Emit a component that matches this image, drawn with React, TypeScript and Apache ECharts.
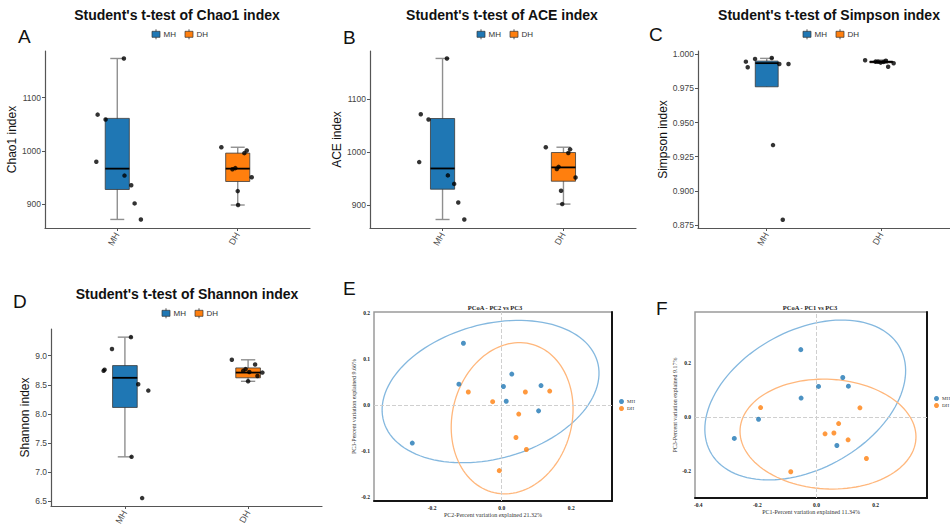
import React, { useEffect, useRef } from 'react';
import * as echarts from 'echarts';

const SANS = '"Liberation Sans", Arial, Helvetica, sans-serif';
const SERIF = '"Liberation Serif", "Times New Roman", serif';

const groups = ['MH', 'DH'];
const boxColors = ['#1f77b4', '#ff7f0e'];
const pcColors = ['#1f77b4', '#ff7f0e'];
const ellipseColors = ['#84b8df', '#ffb77c'];

// Panel A – Chao1: box stats [min, Q1, median, Q3, max]
const chaoBoxMH = [872, 928, 967, 1061, 1173];
const chaoBoxDH = [899, 943, 967, 996, 1007];
const chaoMH = [1173, 1068, 1059, 980, 954, 936, 902, 872];
const chaoMHJit = [1.055, 0.837, 0.903, 0.826, 1.06, 1.116, 1.144, 1.196];
const chaoDH = [1007, 996, 1001, 966, 968, 951, 925, 899];
const chaoDHJit = [1.864, 2.055, 2.075, 1.956, 1.98, 2.116, 2.0, 2.003];
const chaoTicks = [900, 1000, 1100];

// Panel B – ACE
const aceBoxMH = [873, 930, 969, 1063, 1176];
const aceBoxDH = [902, 945, 971, 999, 1009];
const aceMH = [1176, 1071, 1061, 981, 956, 940, 905, 873];
const aceMHJit = [1.036, 0.82, 0.884, 0.807, 1.044, 1.096, 1.13, 1.18];
const aceDH = [1009, 1005, 998, 968, 972, 952, 927, 902];
const aceDHJit = [1.854, 2.055, 2.04, 1.945, 1.96, 2.1, 1.98, 1.99];
const aceTicks = [900, 1000, 1100];

// Panel C – Simpson
const simpBoxMH = [0.9762, 0.9762, 0.9935, 0.995, 0.997];
const simpBoxDH = [0.9935, 0.9938, 0.9944, 0.995, 0.9958];
const simpMH = [0.9946, 0.9905, 0.9966, 0.9973, 0.9929, 0.9929, 0.9335, 0.8788];
const simpMHJit = [0.818, 0.834, 0.898, 1.044, 1.11, 1.19, 1.055, 1.14];
const simpDH = [0.9956, 0.9946, 0.9946, 0.9939, 0.9953, 0.9909, 0.9934, 0.9944];
const simpDHJit = [1.859, 1.95, 1.972, 1.995, 2.04, 2.06, 2.108, 2.02];
const simpTicks = [0.875, 0.9, 0.925, 0.95, 0.975, 1.0];

// Panel D – Shannon
const shanBoxMH = [7.26, 8.11, 8.62, 8.83, 9.32];
const shanBoxDH = [8.56, 8.62, 8.71, 8.79, 8.93];
const shanMH = [9.32, 9.115, 8.74, 8.76, 8.51, 8.4, 7.26, 6.55];
const shanMHJit = [1.049, 0.895, 0.827, 0.835, 1.108, 1.19, 1.054, 1.14];
const shanDH = [8.93, 8.74, 8.77, 8.85, 8.71, 8.65, 8.56, 8.72];
const shanDHJit = [1.868, 1.96, 1.98, 2.057, 2.116, 2.076, 2.0, 2.01];
const shanTicks = [6.5, 7.0, 7.5, 8.0, 8.5, 9.0];

// Panel E – PCoA PC2 vs PC3
const pcE_MH_x = [-0.11, -0.123, 0.029, 0.005, 0.013, 0.113, 0.106, -0.257];
const pcE_MH_y = [0.134, 0.045, 0.067, 0.04, 0.008, 0.042, -0.013, -0.083];
const pcE_DH_x = [-0.096, -0.026, 0.068, 0.138, 0.049, 0.041, 0.071, -0.007];
const pcE_DH_y = [0.028, 0.007, 0.028, 0.03, -0.02, -0.071, -0.097, -0.143];
// ellipse: [cx, cy, semi-axis a, semi-axis b, angle deg]
const ellE_MH = [-0.032, 0.029, 0.315, 0.148, 9.4];
const ellE_DH = [0.03, -0.029, 0.181, 0.158, 31.2];
const pcE_xTicks = [-0.2, 0, 0.2];
const pcE_yTicks = [-0.2, -0.1, 0, 0.1, 0.2];

// Panel F – PCoA PC1 vs PC3
const pcF_MH_x = [-0.053, 0.089, 0.108, 0.007, -0.052, -0.196, -0.278, 0.069];
const pcF_MH_y = [0.248, 0.145, 0.113, 0.112, 0.069, -0.009, -0.08, -0.106];
const pcF_DH_x = [-0.189, 0.147, 0.075, 0.029, 0.059, 0.107, 0.169, -0.087];
const pcF_DH_y = [0.034, 0.033, -0.025, -0.063, -0.06, -0.085, -0.154, -0.203];
const ellF_MH = [-0.038, 0.062, 0.375, 0.249, 34.5];
const ellF_DH = [0.039, -0.064, 0.298, 0.2025, -3.6];
const pcF_xTicks = [-0.4, -0.2, 0, 0.2];
const pcF_yTicks = [-0.2, 0, 0.2];

const boxPanels = [
  { key: 'A', yName: 'Chao1 index', title: "Student's t-test of Chao1 index", boxes: [chaoBoxMH, chaoBoxDH], vals: [chaoMH, chaoDH], jit: [chaoMHJit, chaoDHJit], ticks: chaoTicks, min: 856, max: 1187, dec: 0 },
  { key: 'B', yName: 'ACE index', title: "Student's t-test of ACE index", boxes: [aceBoxMH, aceBoxDH], vals: [aceMH, aceDH], jit: [aceMHJit, aceDHJit], ticks: aceTicks, min: 857, max: 1190, dec: 0 },
  { key: 'C', yName: 'Simpson index', title: "Student's t-test of Simpson index", boxes: [simpBoxMH, simpBoxDH], vals: [simpMH, simpDH], jit: [simpMHJit, simpDHJit], ticks: simpTicks, min: 0.8728, max: 1.0024, dec: 3 },
  { key: 'D', yName: 'Shannon index', title: "Student's t-test of Shannon index", boxes: [shanBoxMH, shanBoxDH], vals: [shanMH, shanDH], jit: [shanMHJit, shanDHJit], ticks: shanTicks, min: 6.414, max: 9.46, dec: 1 },
];

const pcPanels = [
  { key: 'E', title: 'PCoA - PC2 vs PC3', xName: 'PC2-Percent variation explained 21.32%', yName: 'PC3-Percent variation explained 9.66%', pts: [[pcE_MH_x, pcE_MH_y], [pcE_DH_x, pcE_DH_y]], ell: [ellE_MH, ellE_DH], xTicks: pcE_xTicks, yTicks: pcE_yTicks, xMin: -0.367, xMax: 0.317, yMin: -0.209, yMax: 0.202 },
  { key: 'F', title: 'PCoA - PC1 vs PC3', xName: 'PC1-Percent variation explained 11.34%', yName: 'PC3-Percent variation explained 9.17%', pts: [[pcF_MH_x, pcF_MH_y], [pcF_DH_x, pcF_DH_y]], ell: [ellF_MH, ellF_DH], xTicks: pcF_xTicks, yTicks: pcF_yTicks, xMin: -0.411, xMax: 0.374, yMin: -0.3, yMax: 0.387 },
];

// layout (pixels)
const boxGrids = [
  { left: 45, top: 51, width: 265, height: 177 },
  { left: 370, top: 51, width: 266, height: 177 },
  { left: 698, top: 51, width: 266, height: 177 },
  { left: 51, top: 329, width: 271, height: 177 },
];
const boxNameGaps = [26, 26, 29, 18];
const boxTitlePos = [[177, 15], [502, 15], [829, 15], [187, 294]];
const boxLegendPos = [[152, 34.3], [477, 34.3], [803, 34.3], [162, 313.3]];
const pcGrids = [
  { left: 374, top: 312, width: 238, height: 189 },
  { left: 695, top: 312, width: 232, height: 186 },
];
const pcYNameGaps = [10.5, 12.5];
const pcTitlePos = [[495, 307], [810, 307]];
const pcLegendPos = [[619, 399], [934, 396]];
const letterPos = [[18, 36], [343, 37], [649, 34], [13, 301], [343, 288], [656, 308]];

function boxRender(color: string) {
  return (params: any, api: any) => {
    const x = api.value(0);
    const lo = api.value(1), q1 = api.value(2), med = api.value(3), q3 = api.value(4), hi = api.value(5);
    const hw = 0.1, cw = 0.058;
    const c = api.coord([x, hi]);
    const cLo = api.coord([x, lo]);
    const capL = api.coord([x - cw, hi]);
    const capR = api.coord([x + cw, hi]);
    const boxTL = api.coord([x - hw, q3]);
    const boxBR = api.coord([x + hw, q1]);
    const mL = api.coord([x - hw, med]);
    const mR = api.coord([x + hw, med]);
    const wStyle = { stroke: '#8f8f8f', lineWidth: 1.4 };
    const children: any[] = [
      { type: 'line', shape: { x1: c[0], y1: c[1], x2: cLo[0], y2: cLo[1] }, style: wStyle },
      { type: 'line', shape: { x1: capL[0], y1: c[1], x2: capR[0], y2: c[1] }, style: wStyle },
    ];
    if (lo < q1) {
      children.push({ type: 'line', shape: { x1: capL[0], y1: cLo[1], x2: capR[0], y2: cLo[1] }, style: wStyle });
    }
    children.push({
      type: 'rect',
      shape: { x: boxTL[0], y: boxTL[1], width: boxBR[0] - boxTL[0], height: Math.max(1, boxBR[1] - boxTL[1]) },
      style: { fill: color, stroke: '#3a3a3a', lineWidth: 0.8 },
    });
    children.push({ type: 'line', shape: { x1: mL[0], y1: mL[1], x2: mR[0], y2: mR[1] }, style: { stroke: '#000', lineWidth: 1.8 } });
    return { type: 'group', children };
  };
}

function ellipseRender(color: string) {
  return (params: any, api: any) => {
    const cx = api.value(0), cy = api.value(1), a = api.value(2), b = api.value(3);
    const th = (api.value(4) * Math.PI) / 180;
    const pts: number[][] = [];
    const n = 120;
    for (let k = 0; k < n; k++) {
      const t = (k / n) * Math.PI * 2;
      const ex = a * Math.cos(t), ey = b * Math.sin(t);
      pts.push(api.coord([cx + ex * Math.cos(th) - ey * Math.sin(th), cy + ex * Math.sin(th) + ey * Math.cos(th)]));
    }
    return { type: 'polygon', shape: { points: pts }, style: { fill: 'none', stroke: color, lineWidth: 1.3 } };
  };
}

function buildOption() {
  const grid: any[] = [];
  const xAxis: any[] = [];
  const yAxis: any[] = [];
  const series: any[] = [];
  const graphic: any[] = [];
  const legend: any[] = [];

  boxPanels.forEach((p, i) => {
    grid.push({ ...boxGrids[i], containLabel: false });
    xAxis.push({
      gridIndex: i, type: 'value', min: 0.4, max: 2.6,
      axisLine: { show: true, onZero: false, lineStyle: { color: '#555', width: 1.2 } },
      axisTick: { show: true, customValues: [1, 2], length: 3, lineStyle: { color: '#555' } },
      axisLabel: {
        customValues: [1, 2], rotate: 60, margin: 5, fontSize: 9, color: '#4d4d4d', fontFamily: SANS,
        formatter: (v: number) => groups[Math.round(v) - 1] ?? '',
      },
      splitLine: { show: false },
    });
    yAxis.push({
      gridIndex: i, type: 'value', min: p.min, max: p.max,
      name: p.yName, nameLocation: 'middle', nameGap: boxNameGaps[i], nameRotate: 90,
      nameTextStyle: { fontSize: 12, color: '#111', fontFamily: SANS },
      axisLine: { show: true, onZero: false, lineStyle: { color: '#555', width: 1.2 } },
      axisTick: { show: true, customValues: p.ticks, length: 3, lineStyle: { color: '#555' } },
      axisLabel: {
        customValues: p.ticks, fontSize: 8.5, color: '#444', fontFamily: SANS, margin: 4,
        formatter: (v: number) => v.toFixed(p.dec),
      },
      splitLine: { show: false },
    });
    groups.forEach((g, k) => {
      series.push({
        type: 'custom', name: `${p.key}-${g}`, xAxisIndex: i, yAxisIndex: i, silent: true, clip: false,
        renderItem: boxRender(boxColors[k]),
        encode: { x: 0, y: [1, 2, 3, 4, 5] },
        data: [[k + 1, ...p.boxes[k]]],
      });
    });
    groups.forEach((g, k) => {
      series.push({
        type: 'scatter', name: `${p.key}-${g}-pts`, xAxisIndex: i, yAxisIndex: i, silent: true,
        symbolSize: 4.5, itemStyle: { color: '#000' }, z: 5,
        data: p.jit[k].map((x, j) => [x, p.vals[k][j]]),
      });
    });
    graphic.push({
      type: 'text', z: 10,
      style: { text: p.title, x: boxTitlePos[i][0], y: boxTitlePos[i][1], fontSize: 14, fontWeight: 'bold', fontFamily: SANS, fill: '#111', textAlign: 'center', textVerticalAlign: 'middle' },
    });
    const [L, ly] = boxLegendPos[i];
    groups.forEach((g, k) => {
      const x0 = L + k * 33;
      graphic.push({ type: 'line', z: 10, shape: { x1: x0 + 4, y1: ly - 5, x2: x0 + 4, y2: ly + 5 }, style: { stroke: '#555', lineWidth: 1 } });
      graphic.push({ type: 'rect', z: 10, shape: { x: x0, y: ly - 3, width: 8, height: 6 }, style: { fill: boxColors[k], stroke: '#333', lineWidth: 0.7 } });
      graphic.push({ type: 'text', z: 10, style: { text: g, x: x0 + 11.5, y: ly, fontSize: 8, fontFamily: SANS, fill: '#333', textVerticalAlign: 'middle' } });
    });
  });

  pcPanels.forEach((p, j) => {
    const gi = 4 + j;
    grid.push({ ...pcGrids[j], show: true, borderColor: '#9a9a9a', borderWidth: 1.5, backgroundColor: 'transparent' });
    xAxis.push({
      gridIndex: gi, type: 'value', min: p.xMin, max: p.xMax,
      name: p.xName, nameLocation: 'middle', nameGap: 8,
      nameTextStyle: { fontSize: 6, color: '#333', fontFamily: SERIF },
      axisLine: { show: true, onZero: false, lineStyle: { color: '#151515', width: 2 } },
      axisTick: { show: false },
      axisLabel: { customValues: p.xTicks, fontSize: 5.5, fontWeight: 'bold', fontFamily: SERIF, color: '#222', margin: 4, formatter: (v: number) => v.toFixed(1) },
      splitLine: { show: false },
    });
    yAxis.push({
      gridIndex: gi, type: 'value', min: p.yMin, max: p.yMax,
      name: p.yName, nameLocation: 'middle', nameGap: pcYNameGaps[j], nameRotate: 90,
      nameTextStyle: { fontSize: 6, color: '#333', fontFamily: SERIF },
      axisLine: { show: false, onZero: false },
      axisTick: { show: false },
      axisLabel: { customValues: p.yTicks, fontSize: 5.5, fontWeight: 'bold', fontFamily: SERIF, color: '#222', margin: 4, formatter: (v: number) => v.toFixed(1) },
      splitLine: { show: false },
    });
    graphic.push({
      type: 'text', z: 10,
      style: { text: p.title, x: pcTitlePos[j][0], y: pcTitlePos[j][1], fontSize: 6.5, fontWeight: 'bold', fontFamily: SERIF, fill: '#222', textAlign: 'center', textVerticalAlign: 'middle' },
    });
    legend.push({
      left: pcLegendPos[j][0], top: pcLegendPos[j][1], orient: 'vertical', icon: 'circle',
      itemWidth: 5, itemHeight: 5, itemGap: 2, padding: 0,
      textStyle: { fontSize: 5, fontFamily: SERIF, color: '#333', padding: [0, 0, 0, -2] },
      data: groups,
    });
  });

  pcPanels.forEach((p, j) => {
    yAxis.push({
      gridIndex: 4 + j, type: 'value', position: 'right', min: 0, max: 1,
      axisLine: { show: true, onZero: false, lineStyle: { color: '#151515', width: 2 } },
      axisTick: { show: false }, axisLabel: { show: false }, splitLine: { show: false },
    });
  });

  pcPanels.forEach((p, j) => {
    const gi = 4 + j;
    groups.forEach((g, k) => {
      series.push({
        type: 'custom', name: `${p.key}-${g}-ellipse`, xAxisIndex: gi, yAxisIndex: gi, silent: true, clip: false,
        renderItem: ellipseRender(ellipseColors[k]),
        encode: { x: 0, y: 1 },
        data: [p.ell[k]],
      });
    });
    groups.forEach((g, k) => {
      const s: any = {
        type: 'scatter', name: g, xAxisIndex: gi, yAxisIndex: gi,
        symbolSize: 5, itemStyle: { color: pcColors[k] }, z: 5,
        data: p.pts[k][0].map((x, m) => [x, p.pts[k][1][m]]),
      };
      if (k === 0) {
        s.markLine = {
          silent: true, symbol: 'none', label: { show: false },
          lineStyle: { type: 'dashed', color: '#cfcfcf', width: 1 },
          data: [{ xAxis: 0 }, { yAxis: 0 }],
        };
      }
      series.push(s);
    });
  });

  ['A', 'B', 'C', 'D', 'E', 'F'].forEach((l, i) => {
    graphic.push({
      type: 'text', z: 10,
      style: { text: l, x: letterPos[i][0], y: letterPos[i][1], fontSize: 19, fontFamily: SANS, fill: '#111', textVerticalAlign: 'middle' },
    });
  });

  return {
    animation: false,
    backgroundColor: '#fff',
    grid, xAxis, yAxis, series, graphic, legend,
  };
}

export default function App() {
  const ref = useRef<HTMLDivElement>(null);
  useEffect(() => {
    if (!ref.current) return;
    const chart = echarts.init(ref.current, undefined, { renderer: 'svg' });
    chart.setOption(buildOption() as any);
    return () => chart.dispose();
  }, []);
  return <div ref={ref} style={{ position: 'absolute', left: 0, top: 0, width: 950, height: 529, background: '#fff' }} />;
}
